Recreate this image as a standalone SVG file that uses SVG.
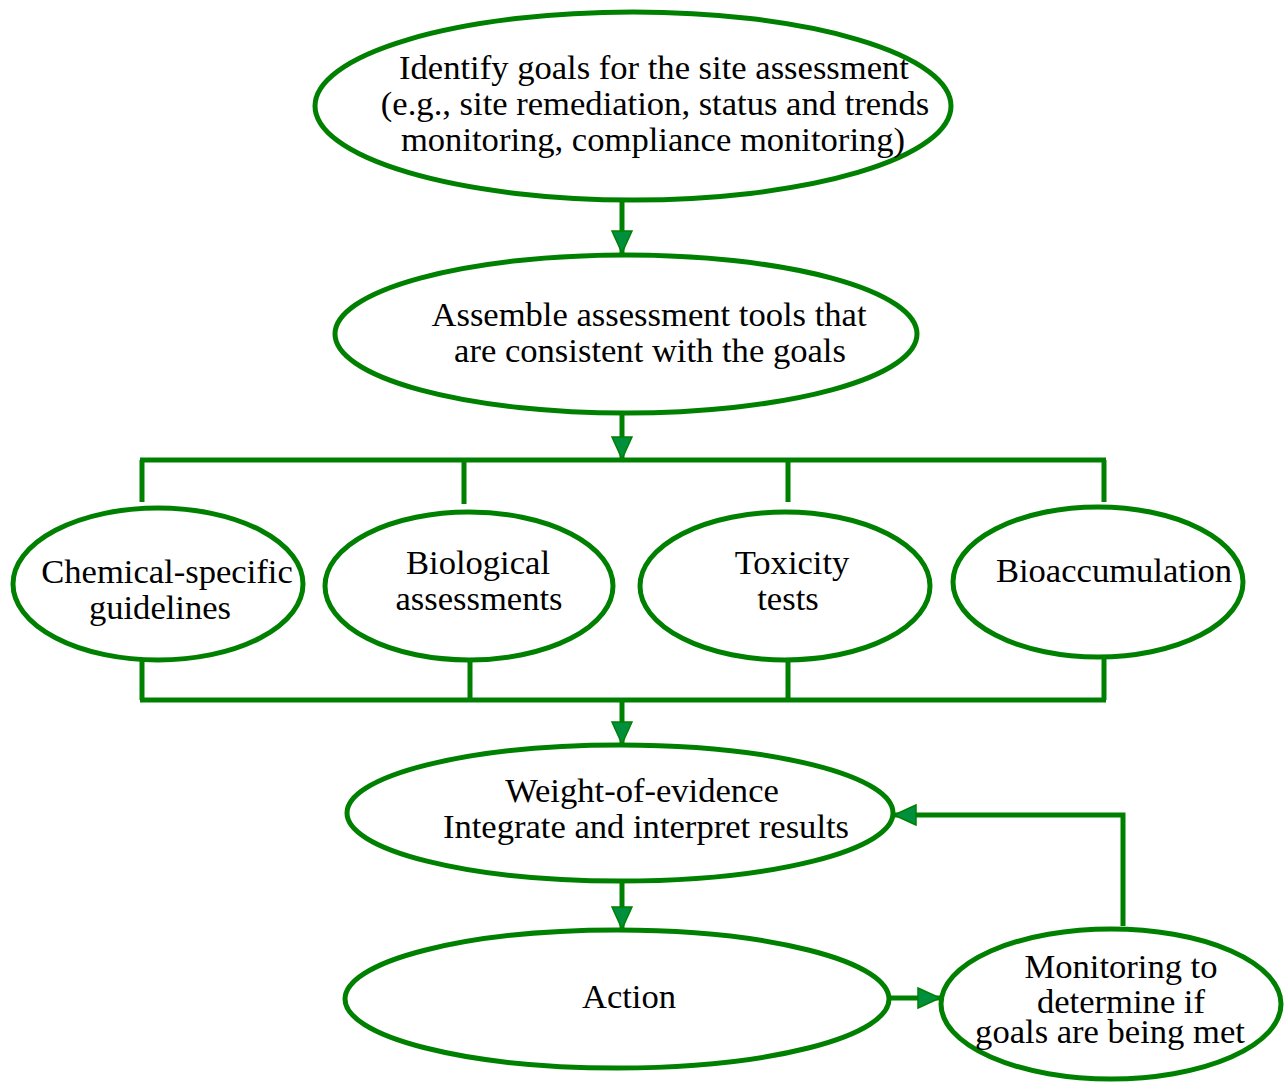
<svg xmlns="http://www.w3.org/2000/svg" width="1284" height="1082" viewBox="0 0 1284 1082">
<style>
.node ellipse{fill:#ffffff;stroke:#008000;stroke-width:5}
.node text{font-family:"Liberation Serif","Times New Roman",serif;font-size:34.6px;fill:#000000;text-anchor:middle}
.conn path{fill:none;stroke:#008000;stroke-width:5}
</style>
<defs>
<marker id="arr" markerUnits="userSpaceOnUse" markerWidth="26" markerHeight="24" refX="23" refY="11" orient="auto">
<path d="M1,1 L23,11 L1,21 Z" fill="#008f3c" stroke="#008000" stroke-width="1.5"/>
</marker>
</defs>
<rect width="1284" height="1082" fill="#ffffff"/>
<g class="conn">
<path d="M622,200 V253" marker-end="url(#arr)"/>
<path d="M622,413 V459" marker-end="url(#arr)"/>
<path d="M140,460 H1106"/>
<path d="M142,460 V502 M464,460 V504 M788,460 V502 M1104,460 V502"/>
<path d="M142,660 V700 M470,660 V700 M788,660 V700 M1104,658 V700"/>
<path d="M140,700 H1106"/>
<path d="M622,700 V744" marker-end="url(#arr)"/>
<path d="M622,882 V929" marker-end="url(#arr)"/>
<path d="M889,998 H940" marker-end="url(#arr)"/>
<path d="M1123,926 V815 H894" marker-end="url(#arr)"/>
</g>
<g id="goals" class="node">
<ellipse cx="633" cy="106" rx="318" ry="94"/>
<text x="654" y="79">Identify goals for the site assessment</text>
<text x="655" y="115">(e.g., site remediation, status and trends</text>
<text x="653" y="151">monitoring, compliance monitoring)</text>
</g>
<g id="assemble" class="node">
<ellipse cx="626" cy="334" rx="291" ry="79"/>
<text x="649" y="326">Assemble assessment tools that</text>
<text x="650" y="362">are consistent with the goals</text>
</g>
<g id="chemical" class="node">
<ellipse cx="158" cy="584" rx="145" ry="76"/>
<text x="167" y="583">Chemical-specific</text>
<text x="160" y="619">guidelines</text>
</g>
<g id="biological" class="node">
<ellipse cx="469" cy="586" rx="144" ry="74"/>
<text x="478" y="574">Biological</text>
<text x="479" y="610">assessments</text>
</g>
<g id="toxicity" class="node">
<ellipse cx="785" cy="586" rx="145" ry="74"/>
<text x="792" y="574">Toxicity</text>
<text x="788" y="610">tests</text>
</g>
<g id="bioaccumulation" class="node">
<ellipse cx="1098" cy="582" rx="145" ry="75"/>
<text x="1114" y="582">Bioaccumulation</text>
</g>
<g id="weight" class="node">
<ellipse cx="620" cy="813" rx="273" ry="68"/>
<text x="642" y="802">Weight-of-evidence</text>
<text x="646" y="838">Integrate and interpret results</text>
</g>
<g id="action" class="node">
<ellipse cx="617" cy="999" rx="272" ry="69"/>
<text x="629" y="1008">Action</text>
</g>
<g id="monitoring" class="node">
<ellipse cx="1111" cy="1004" rx="170" ry="75"/>
<text x="1121" y="978">Monitoring to</text>
<text x="1121" y="1013">determine if</text>
<text x="1110" y="1043">goals are being met</text>
</g>
</svg>
